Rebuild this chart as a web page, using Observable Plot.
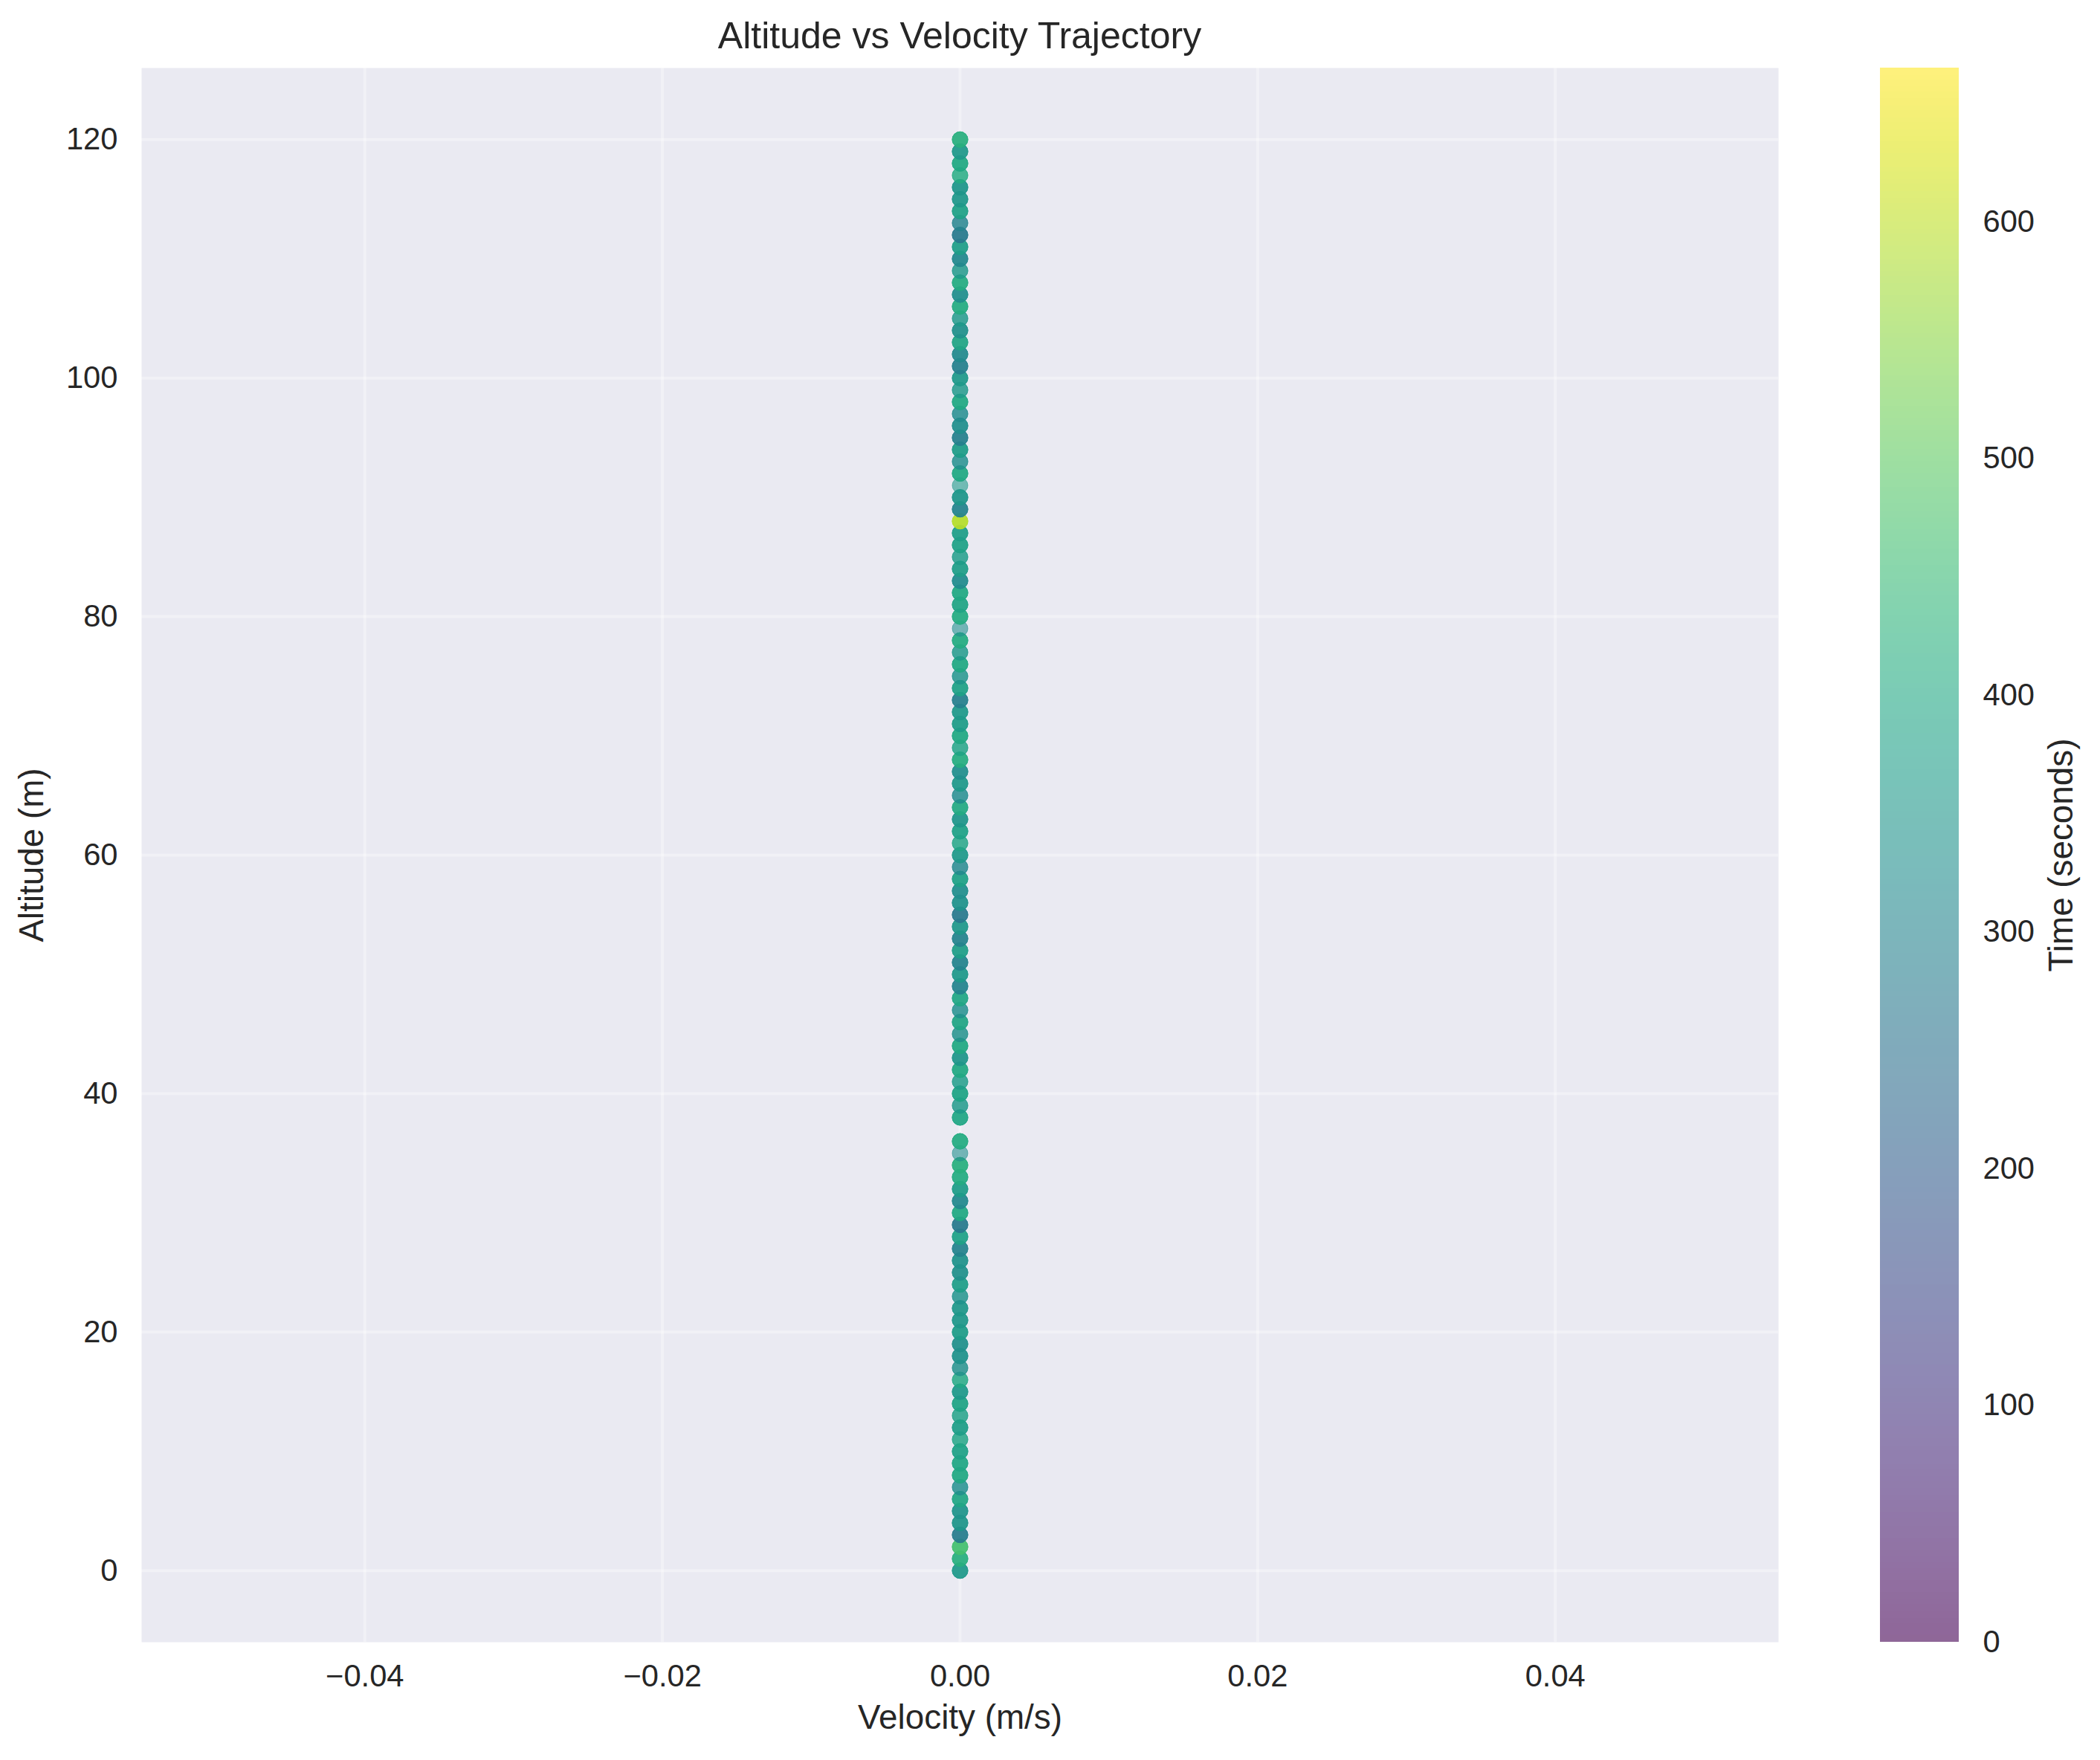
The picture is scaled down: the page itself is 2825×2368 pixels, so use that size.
<!DOCTYPE html>
<html>
<head>
<meta charset="utf-8">
<script src="https://cdn.jsdelivr.net/npm/d3@7"></script>
<script src="https://cdn.jsdelivr.net/npm/@observablehq/plot@0.6"></script>
<style>
  html, body { margin: 0; padding: 0; background: #ffffff; }
  #wrap { position: relative; width: 2825px; height: 2368px; font-family: "Liberation Sans", Arial, sans-serif; color: #262626; }
  #title { height: 80px; box-sizing: border-box; padding-top: 23px; line-height: 50px; font-size: 50px; width: 2825px; }
  #title span { position: absolute; left: 1291px; transform: translateX(-50%); white-space: nowrap; }
  #cbar { position: absolute; left: 2529px; top: 80px; }
</style>
</head>
<body>
<div id="wrap">
  <div id="title"><span>Altitude vs Velocity Trajectory</span></div>
  <div id="main"></div>
  <div id="cbar"></div>
</div>
<script>
// ---- data ----
const altitudes = [
  0,1,2,3,4,5,6,7,8,9,10,11,12,13,14,15,16,17,18,19,20,21,22,23,24,25,26,27,28,29,30,31,32,33,34,35,36,
  38,39,40,41,42,43,44,45,46,47,48,49,50,51,52,53,54,55,56,57,58,59,60,61,62,63,64,65,66,67,68,69,70,
  71,72,73,74,75,76,77,78,79,80,81,82,83,84,85,86,87,88,89,90,91,92,93,94,95,96,97,98,99,100,
  101,102,103,104,105,106,107,108,109,110,111,112,113,114,115,116,117,118,119,120
];
const times = [
  360,420,465,280,350,345,395,330,400,395,380,390,370,380,385,360,400,335,340,335,365,355,355,340,370,335,340,300,380,270,400,310,365,410,420,330,410,
  395,360,385,365,400,350,400,335,390,330,395,300,360,300,370,300,355,270,340,330,380,310,360,390,380,350,405,320,360,330,415,385,400,
  365,360,290,380,345,400,360,410,330,410,390,400,320,370,365,380,370,590,300,350,360,400,330,365,290,330,320,400,360,360,
  290,315,390,335,360,410,330,410,360,310,370,270,300,380,355,350,410,400,360,420
];
// number of overlapping samples drawn at each altitude
const samples = [
  3,3,3,3,3,3,3,2,3,3,3,2,3,2,3,3,2,2,3,3,3,3,3,2,3,3,3,3,3,3,3,3,3,3,3,1,3,
  3,2,3,2,3,3,3,2,3,2,3,3,3,3,3,3,3,3,3,3,3,2,3,2,3,3,3,2,3,3,3,2,3,
  3,3,3,3,2,3,2,3,1,3,3,3,3,3,2,3,3,3,3,3,1,3,2,3,3,3,2,3,2,3,
  3,3,3,3,2,3,3,3,2,3,3,3,2,3,3,3,2,3,3,3
];
const velocity = 0;
const xTicks = [-0.04, -0.02, 0.00, 0.02, 0.04];
const yTicks = [0, 20, 40, 60, 80, 100, 120];
const timeTicks = [0, 100, 200, 300, 400, 500, 600];
const timeMax = 665;

const points = altitudes.flatMap((a, i) =>
  d3.range(samples[i]).map(() => ({velocity, altitude: a, time: times[i]}))
);

const W = 2825, H = 2368 - 80;
const mTop = 11, mBottom = 159, mLeft = 190, mRight = 433;
const font = "Liberation Sans, Arial, sans-serif";
const color = {type: "linear", scheme: "viridis", domain: [0, timeMax]};

const main = Plot.plot({
  width: W, height: H,
  marginTop: mTop, marginBottom: mBottom, marginLeft: mLeft, marginRight: mRight,
  style: {fontFamily: font, fontSize: "41.7px", color: "#262626", background: "#ffffff"},
  x: {domain: [-0.055, 0.055]},
  y: {domain: [-6, 126]},
  color,
  marks: [
    Plot.frame({fill: "#EAEAF2", stroke: "none"}),
    Plot.gridX(xTicks, {stroke: "#ffffff", strokeOpacity: 0.35, strokeWidth: 4}),
    Plot.gridY(yTicks, {stroke: "#ffffff", strokeOpacity: 0.35, strokeWidth: 4}),
    Plot.dot(points, {x: "velocity", y: "altitude", fill: "time", r: 10.5, fillOpacity: 0.6,
      stroke: "time", strokeOpacity: 0.6, strokeWidth: 1}),
    Plot.axisX(xTicks, {tickSize: 0, tickPadding: 30, tickFormat: d3.format(".2f"),
      label: "Velocity (m/s)", labelAnchor: "center", labelOffset: 116, labelArrow: "none", fontSize: 41.7}),
    Plot.axisY(yTicks, {tickSize: 0, tickPadding: 32, tickFormat: d3.format("d"),
      label: "Altitude (m)", labelAnchor: "center", labelOffset: 165, labelArrow: "none", fontSize: 41.7})
  ]
});
main.querySelectorAll('[aria-label="x-axis label"], [aria-label="y-axis label"]').forEach(g => g.setAttribute("font-size", "45.8"));
main.querySelectorAll('[aria-label="x-axis label"] text, [aria-label="y-axis label"] text').forEach(t => t.setAttribute("font-size", "45.8"));
document.getElementById("main").appendChild(main);

const bands = d3.range(0, timeMax, 1);
const cbar = Plot.plot({
  width: 296, height: H,
  marginTop: mTop, marginBottom: mBottom, marginLeft: 0, marginRight: 190,
  style: {fontFamily: font, fontSize: "41.7px", color: "#262626", background: "transparent"},
  x: {domain: [0, 1], axis: null},
  y: {domain: [0, timeMax]},
  color,
  marks: [
    Plot.rect(bands, {x1: 0, x2: 1, y1: d => d, y2: d => Math.min(d + 1, timeMax), fill: d => d + 0.5,
      fillOpacity: 0.6, shapeRendering: "crispEdges"}),
    Plot.axisY(timeTicks, {anchor: "right", tickSize: 0, tickPadding: 32, textAnchor: "start",
      label: "Time (seconds)", labelAnchor: "center", labelOffset: 152, labelArrow: "none", fontSize: 41.7})
  ]
});
cbar.querySelectorAll('[aria-label="y-axis label"]').forEach(g => g.setAttribute("font-size", "45.8"));
cbar.querySelectorAll('[aria-label="y-axis label"] text').forEach(t => t.setAttribute("font-size", "45.8"));
document.getElementById("cbar").appendChild(cbar);
</script>
</body>
</html>
